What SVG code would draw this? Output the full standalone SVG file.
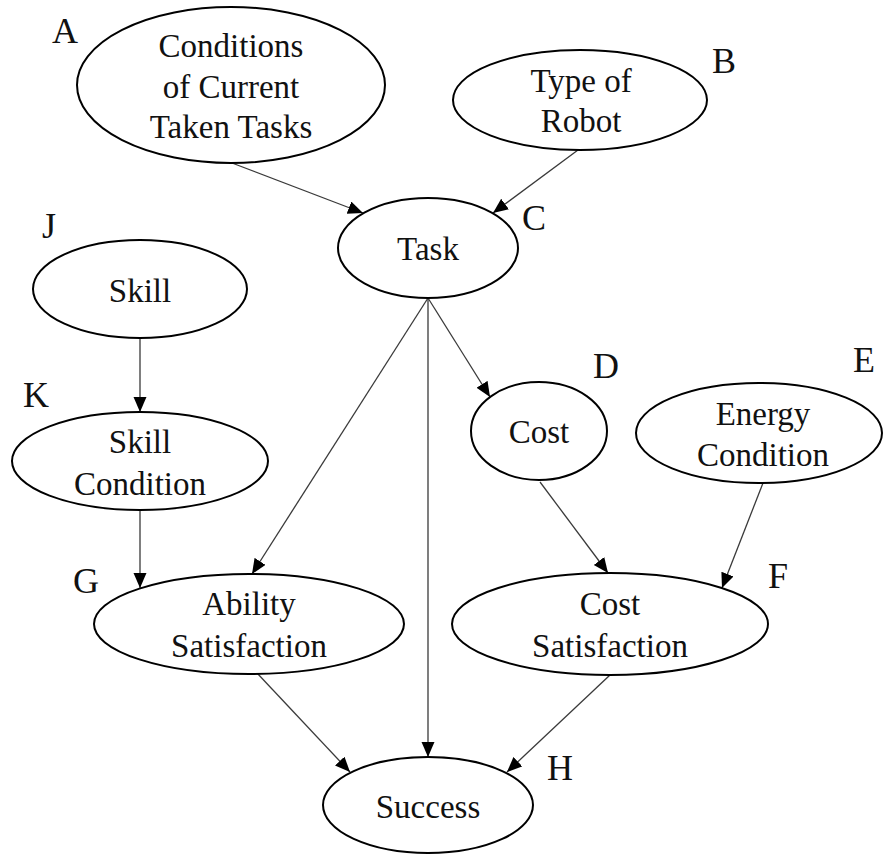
<svg xmlns="http://www.w3.org/2000/svg" width="883" height="855" viewBox="0 0 883 855">
  <style>
    .node ellipse { fill: #ffffff; stroke: #000000; stroke-width: 2; }
    .node text { font-family: "Liberation Serif", "Times New Roman", serif; font-size: 33px; fill: #111111; text-anchor: middle; }
    .tag { font-family: "Liberation Serif", "Times New Roman", serif; font-size: 36px; fill: #111111; }
    .edge { stroke: #3a3a3a; stroke-width: 1.3; fill: none; marker-end: url(#arrow); }
  </style>
  <defs>
    <marker id="arrow" markerUnits="userSpaceOnUse" markerWidth="16" markerHeight="14" refX="15" refY="6.5" orient="auto">
      <path d="M0,0 L15,6.5 L0,13 z" fill="#000000"/>
    </marker>
  </defs>
  <rect width="883" height="855" fill="#ffffff"/>

  <!-- connectors -->
  <g id="connectors">
    <line class="edge" x1="232" y1="163" x2="363" y2="213"/>
    <line class="edge" x1="578" y1="150" x2="493" y2="213"/>
    <line class="edge" x1="140" y1="338" x2="140" y2="412"/>
    <line class="edge" x1="140" y1="510" x2="140" y2="588"/>
    <line class="edge" x1="428" y1="298" x2="252" y2="574"/>
    <line class="edge" x1="428" y1="298" x2="428" y2="757"/>
    <line class="edge" x1="428" y1="298" x2="490" y2="397"/>
    <line class="edge" x1="540" y1="482" x2="608" y2="573"/>
    <line class="edge" x1="763" y1="483" x2="722" y2="588"/>
    <line class="edge" x1="257" y1="673" x2="350" y2="772"/>
    <line class="edge" x1="610" y1="675" x2="507" y2="772"/>
  </g>

  <!-- nodes -->
  <g id="nodeA" class="node">
    <ellipse cx="231" cy="85" rx="154" ry="78"/>
    <text x="231" y="57">Conditions</text>
    <text x="231" y="98">of Current</text>
    <text x="231" y="138">Taken Tasks</text>
  </g>
  <g id="nodeB" class="node">
    <ellipse cx="580" cy="100" rx="127" ry="50"/>
    <text x="581" y="92">Type of</text>
    <text x="581" y="132">Robot</text>
  </g>
  <g id="nodeC" class="node">
    <ellipse cx="428" cy="248" rx="90" ry="50"/>
    <text x="428" y="260">Task</text>
  </g>
  <g id="nodeJ" class="node">
    <ellipse cx="140" cy="289" rx="107" ry="49"/>
    <text x="140" y="302">Skill</text>
  </g>
  <g id="nodeK" class="node">
    <ellipse cx="140" cy="461" rx="128" ry="49"/>
    <text x="140" y="453">Skill</text>
    <text x="140" y="495">Condition</text>
  </g>
  <g id="nodeD" class="node">
    <ellipse cx="539" cy="431" rx="68" ry="49"/>
    <text x="539" y="443">Cost</text>
  </g>
  <g id="nodeE" class="node">
    <ellipse cx="759" cy="433" rx="123" ry="50"/>
    <text x="763" y="425">Energy</text>
    <text x="763" y="466">Condition</text>
  </g>
  <g id="nodeG" class="node">
    <ellipse cx="249" cy="624" rx="155" ry="50"/>
    <text x="249" y="615">Ability</text>
    <text x="249" y="657">Satisfaction</text>
  </g>
  <g id="nodeF" class="node">
    <ellipse cx="610" cy="624" rx="158" ry="51"/>
    <text x="610" y="615">Cost</text>
    <text x="610" y="657">Satisfaction</text>
  </g>
  <g id="nodeH" class="node">
    <ellipse cx="428" cy="805" rx="105" ry="48"/>
    <text x="428" y="818">Success</text>
  </g>

  <!-- node letters -->
  <g id="letters">
    <text class="tag" x="52" y="43">A</text>
    <text class="tag" x="712" y="73">B</text>
    <text class="tag" x="522" y="230">C</text>
    <text class="tag" x="593" y="378">D</text>
    <text class="tag" x="853" y="372">E</text>
    <text class="tag" x="768" y="588">F</text>
    <text class="tag" x="73" y="593">G</text>
    <text class="tag" x="547" y="780">H</text>
    <text class="tag" x="42" y="238">J</text>
    <text class="tag" x="23" y="407">K</text>
  </g>
</svg>
